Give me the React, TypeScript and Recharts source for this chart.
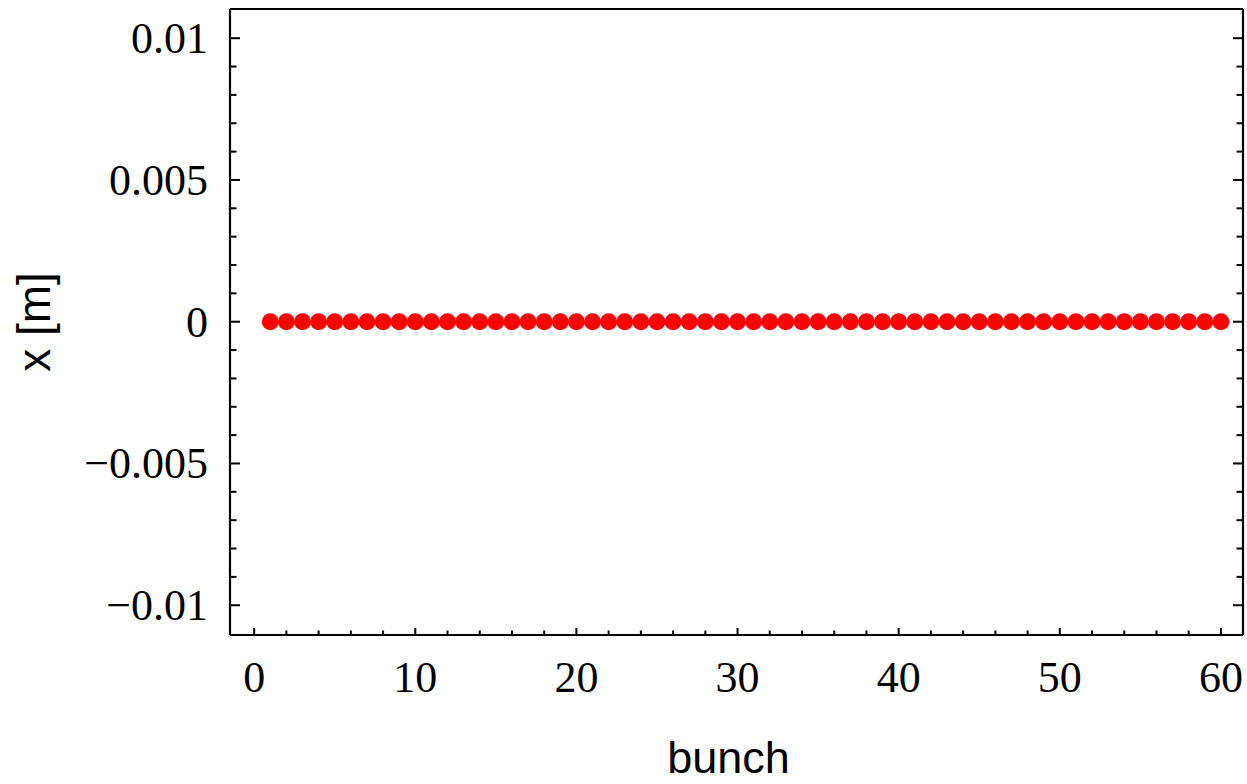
import { ScatterChart, Scatter, XAxis, YAxis } from "recharts";

// bunch index and measured horizontal offset x [m]
const bunch = [
  1, 2, 3, 4, 5, 6, 7, 8, 9, 10, 11, 12, 13, 14, 15, 16, 17, 18, 19, 20,
  21, 22, 23, 24, 25, 26, 27, 28, 29, 30, 31, 32, 33, 34, 35, 36, 37, 38, 39, 40,
  41, 42, 43, 44, 45, 46, 47, 48, 49, 50, 51, 52, 53, 54, 55, 56, 57, 58, 59, 60,
];
const xOffset = [
  0, 0, 0, 0, 0, 0, 0, 0, 0, 0, 0, 0, 0, 0, 0, 0, 0, 0, 0, 0,
  0, 0, 0, 0, 0, 0, 0, 0, 0, 0, 0, 0, 0, 0, 0, 0, 0, 0, 0, 0,
  0, 0, 0, 0, 0, 0, 0, 0, 0, 0, 0, 0, 0, 0, 0, 0, 0, 0, 0, 0,
];

const xTicks = [
  0, 2, 4, 6, 8, 10, 12, 14, 16, 18, 20, 22, 24, 26, 28, 30,
  32, 34, 36, 38, 40, 42, 44, 46, 48, 50, 52, 54, 56, 58, 60,
];
const xLabelValues = [0, 10, 20, 30, 40, 50, 60];

const yTicks = [
  -0.01, -0.009, -0.008, -0.007, -0.006, -0.005, -0.004, -0.003, -0.002, -0.001, 0,
  0.001, 0.002, 0.003, 0.004, 0.005, 0.006, 0.007, 0.008, 0.009, 0.01,
];
const yLabelValues = [-0.01, -0.005, 0, 0.005, 0.01];
const yLabelText = ["\u22120.01", "\u22120.005", "0", "0.005", "0.01"];

const data = bunch.map((b, i) => ({ bunch: b, x: xOffset[i] }));

const X_DOMAIN = [-1.5, 61.37];
const Y_DOMAIN = [-0.01105, 0.01103];

const SERIF = "'Liberation Serif', 'Times New Roman', serif";
const SANS = "'Liberation Sans', Arial, sans-serif";

function FrameTick(props: any) {
  const { x, y, payload, side } = props;
  const v = payload.value;
  if (side === "bottom" || side === "top") {
    const major = xLabelValues.includes(v);
    const len = major ? 7 : 4.5;
    const dir = side === "bottom" ? -1 : 1;
    return (
      <g>
        <line x1={x} x2={x} y1={y} y2={y + dir * len} stroke="#000" strokeWidth={2} />
        {side === "bottom" && major && (
          <text x={x} y={y + 57} textAnchor="middle" fontFamily={SERIF} fontSize={44} fill="#000">
            {v}
          </text>
        )}
      </g>
    );
  }
  const idx = yLabelValues.indexOf(v);
  const major = idx >= 0;
  const len = major ? 10 : 6.5;
  const dir = side === "left" ? 1 : -1;
  return (
    <g>
      <line x1={x} x2={x + dir * len} y1={y} y2={y} stroke="#000" strokeWidth={2} />
      {side === "left" && major && (
        <text x={x - 22} y={y + 15} textAnchor="end" fontFamily={SERIF} fontSize={44} fill="#000">
          {yLabelText[idx]}
        </text>
      )}
    </g>
  );
}

const Dot = (props: any) => <circle cx={props.cx} cy={props.cy} r={8.5} fill="#ff0000" />;

export default function App() {
  return (
    <div style={{ position: "absolute", left: 0, top: 0, width: 1247, height: 784, background: "#fff" }}>
      <ScatterChart
        width={1247}
        height={784}
        margin={{ top: 8, right: 3, bottom: 148, left: 229 }}
        style={{ overflow: "visible" }}
      >
        <XAxis
          dataKey="bunch"
          type="number"
          domain={X_DOMAIN}
          allowDataOverflow
          ticks={xTicks}
          interval={0}
          height={1}
          tickSize={0}
          tickMargin={0}
          tickLine={false}
          axisLine={{ stroke: "#000", strokeWidth: 2.2 }}
          tick={(p: any) => <FrameTick {...p} side="bottom" />}
          label={(p: any) => {
            const vb = p.viewBox || { x: 230, y: 635, width: 1013 };
            return (
              <text x={vb.x + vb.width / 2 - 8} y={vb.y + 138} textAnchor="middle" fontFamily={SANS} fontSize={45} fill="#000">
                bunch
              </text>
            );
          }}
        />
        <XAxis
          xAxisId="top"
          orientation="top"
          type="number"
          domain={X_DOMAIN}
          allowDataOverflow
          ticks={xTicks}
          interval={0}
          height={1}
          tickSize={0}
          tickMargin={0}
          tickLine={false}
          axisLine={{ stroke: "#000", strokeWidth: 2.2 }}
          tick={(p: any) => <FrameTick {...p} side="top" />}
        />
        <YAxis
          dataKey="x"
          type="number"
          domain={Y_DOMAIN}
          allowDataOverflow
          ticks={yTicks}
          interval={0}
          width={1}
          tickSize={0}
          tickMargin={0}
          tickLine={false}
          axisLine={{ stroke: "#000", strokeWidth: 2.2 }}
          tick={(p: any) => <FrameTick {...p} side="left" />}
          label={(p: any) => {
            const vb = p.viewBox || { x: 230, y: 9, height: 626 };
            const cy = vb.y + vb.height / 2;
            return (
              <text x={50} y={cy} transform={`rotate(-90, 50, ${cy})`} textAnchor="middle" fontFamily={SANS} fontSize={46} fill="#000">
                x [m]
              </text>
            );
          }}
        />
        <YAxis
          yAxisId="right"
          orientation="right"
          type="number"
          domain={Y_DOMAIN}
          allowDataOverflow
          ticks={yTicks}
          interval={0}
          width={1}
          tickSize={0}
          tickMargin={0}
          tickLine={false}
          axisLine={{ stroke: "#000", strokeWidth: 2.2 }}
          tick={(p: any) => <FrameTick {...p} side="right" />}
        />
        <Scatter data={data} shape={Dot} isAnimationActive={false} />
      </ScatterChart>
    </div>
  );
}
